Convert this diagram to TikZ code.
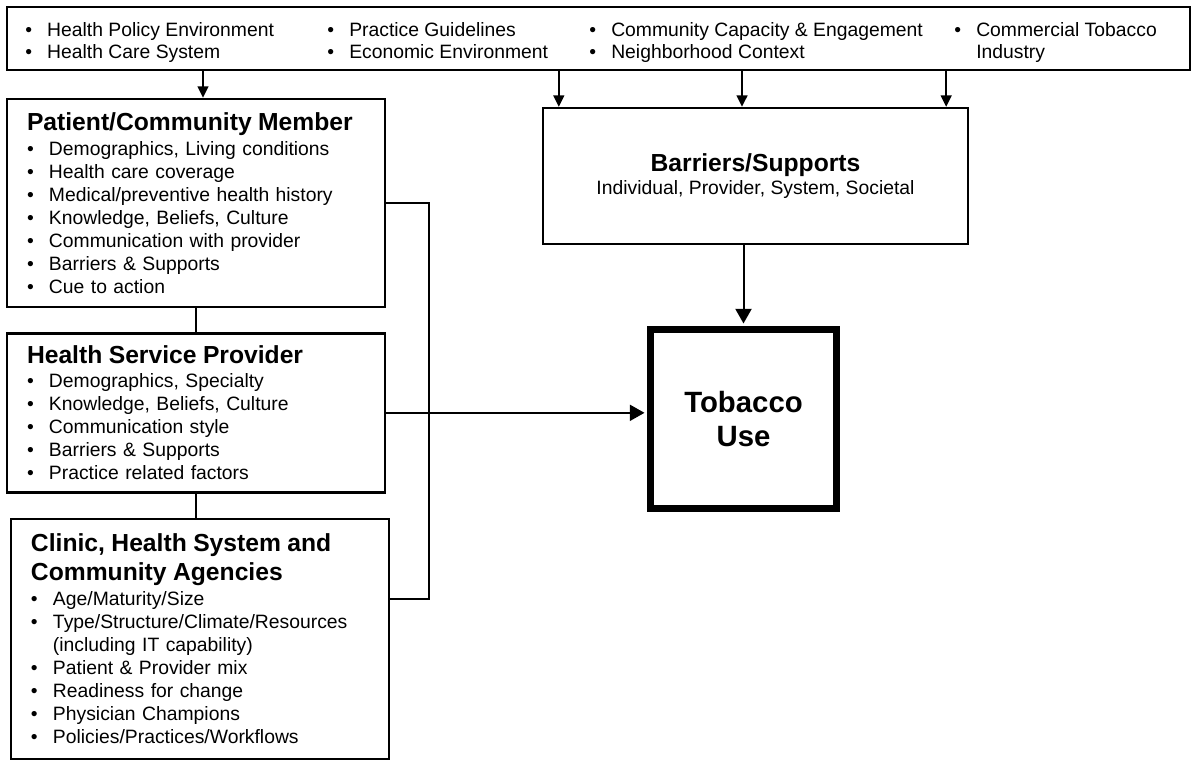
\documentclass[tikz,border=0pt]{standalone}
\usepackage{fontspec}
\setmainfont{Liberation Sans}
\usetikzlibrary{arrows.meta, positioning}
\newcommand{\itm}[1]{\makebox[16.5pt][l]{\textbullet}#1}
\newcommand{\cnt}[1]{\hspace*{16.5pt}#1}
\newcommand{\heading}[1]{{\fontsize{18.5}{22}\selectfont\bfseries #1}}
\tikzset{
  frame/.style={draw, line width=1.75pt, inner sep=0pt},
  listbox/.style={frame, minimum width=283.5pt, text width=253.5pt,
                  align=left, font=\fontsize{14.5}{17.25}\selectfont},
  col/.style={inner sep=0pt, align=left, anchor=base west,
              font=\fontsize{14.5}{16.5}\selectfont},
  toparrow/.style={-{Triangle[length=8.5pt, width=8pt]}, line width=1.5pt},
  bigarrow/.style={-{Triangle[length=11pt, width=12pt]}, line width=1.5pt,
                   shorten >=2pt},
  link/.style={line width=1.75pt},
  thinlink/.style={line width=0.8pt},
}
\begin{document}
\begin{tikzpicture}[x=0.75pt, y=-0.75pt]
  \useasboundingbox (0,0) rectangle (1200,763);

  % Environment bar
  \node[frame, minimum width=887.25pt, minimum height=47.25pt] (env) at (598.5,38.5) {};
  \node[col] (env1) at (25,59)
    {\itm{Health Policy Environment}\\\itm{Health Care System}};
  \node[col] (env2) at (327,59)
    {\itm{Practice Guidelines}\\\itm{Economic Environment}};
  \node[col] (env3) at (589,59)
    {\itm{Community Capacity \& Engagement}\\\itm{Neighborhood Context}};
  \node[col] (env4) at (954,59)
    {\itm{Commercial Tobacco}\\\cnt{Industry}};

  % Left column
  \node[listbox, minimum height=156pt] (pat) at (196,203)
    {\heading{Patient/Community Member}\\[1pt]
     \itm{Demographics, Living conditions}\\
     \itm{Health care coverage}\\
     \itm{Medical/preventive health history}\\
     \itm{Knowledge, Beliefs, Culture}\\
     \itm{Communication with provider}\\
     \itm{Barriers \& Supports}\\
     \itm{Cue to action}};

  \node[listbox, minimum height=119.25pt, below=18pt of pat] (hsp)
    {\heading{Health Service Provider}\\[1pt]
     \itm{Demographics, Specialty}\\
     \itm{Knowledge, Beliefs, Culture}\\
     \itm{Communication style}\\
     \itm{Barriers \& Supports}\\
     \itm{Practice related factors}};

  \node[listbox, minimum height=180pt, below=18pt of hsp, xshift=3pt] (clin)
    {\heading{Clinic, Health System and}\\[4.5pt]
     \heading{Community Agencies}\\[1pt]
     \itm{Age/Maturity/Size}\\
     \itm{Type/Structure/Climate/Resources}\\
     \cnt{(including IT capability)}\\
     \itm{Patient \& Provider mix}\\
     \itm{Readiness for change}\\
     \itm{Physician Champions}\\
     \itm{Policies/Practices/Workflows}};

  % Right side
  \node[frame, align=center, minimum width=318.75pt, minimum height=102pt,
        font=\fontsize{14.5}{17.25}\selectfont] (barr) at (755.5,176)
    {\heading{Barriers/Supports}\\Individual, Provider, System, Societal};
  \node[frame, line width=5pt, align=center, minimum width=139.5pt,
        minimum height=134.25pt, font=\fontsize{22}{25.5}\selectfont\bfseries]
        (tob) at (743.5,419) {Tobacco\\Use};

  % Arrows from the environment bar
  \coordinate (p1) at ([xshift=5.25pt]pat.north);
  \coordinate (p2) at ([xshift=12.75pt]barr.north west);
  \coordinate (p3) at ([xshift=-10.125pt]barr.north);
  \coordinate (p4) at ([xshift=-17.25pt]barr.north east);
  \draw[toparrow] (p1 |- env.south) -- (p1);
  \draw[toparrow] (p2 |- env.south) -- (p2);
  \draw[toparrow] (p3 |- env.south) -- (p3);
  \draw[toparrow] (p4 |- env.south) -- (p4);

  % Left column links
  \draw[thinlink] (pat.south) -- (hsp.north);
  \draw[thinlink] (hsp.south) -- (hsp.south |- clin.north);
  \draw[link] (pat.east) -- ++(43,0) |- ([yshift=30pt]clin.east);

  % Into tobacco use
  \draw[bigarrow] (hsp.east) -- (hsp.east -| tob.west);
  \draw[bigarrow] (tob.north |- barr.south) -- (tob.north);
\end{tikzpicture}
\end{document}
